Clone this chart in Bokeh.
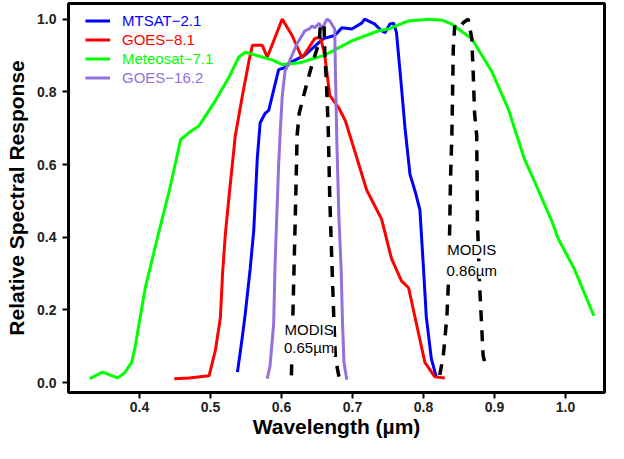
from bokeh.plotting import figure
from bokeh.models import Legend, LegendItem, Label, FixedTicker, Range1d
from bokeh.embed import file_html
from bokeh.resources import INLINE

# ---------------- data ----------------
mtsat_x = [0.538, 0.545, 0.549, 0.556, 0.561, 0.566, 0.570, 0.577, 0.582, 0.591, 0.596, 0.605,
           0.615, 0.633, 0.653, 0.660, 0.675, 0.685, 0.699, 0.713, 0.717, 0.731, 0.741, 0.746,
           0.753, 0.758, 0.762, 0.769, 0.774, 0.781, 0.788, 0.795, 0.800, 0.804, 0.811, 0.818]
mtsat_y = [0.029, 0.128, 0.190, 0.315, 0.420, 0.620, 0.715, 0.741, 0.749, 0.821, 0.861, 0.867,
           0.883, 0.901, 0.936, 0.947, 0.955, 0.976, 0.973, 0.989, 1.000, 0.987, 0.968, 0.963,
           0.987, 0.989, 0.963, 0.813, 0.700, 0.573, 0.528, 0.475, 0.315, 0.181, 0.067, 0.016]

goes8_x = [0.449, 0.470, 0.498, 0.507, 0.514, 0.517, 0.521, 0.526, 0.535, 0.545, 0.554, 0.559,
           0.573, 0.580, 0.601, 0.615, 0.629, 0.647, 0.655, 0.661, 0.668, 0.681, 0.690, 0.709,
           0.720, 0.741, 0.755, 0.769, 0.779, 0.793, 0.802, 0.816, 0.830]
goes8_y = [0.011, 0.013, 0.019, 0.090, 0.180, 0.300, 0.410, 0.510, 0.680, 0.790, 0.883, 0.928,
           0.928, 0.895, 1.000, 0.955, 0.893, 0.947, 0.950, 0.900, 0.790, 0.755, 0.720, 0.600,
           0.530, 0.450, 0.341, 0.280, 0.261, 0.136, 0.056, 0.016, 0.013]

meteo_x = [0.330, 0.348, 0.369, 0.379, 0.389, 0.394, 0.401, 0.408, 0.418, 0.428, 0.442, 0.458,
           0.470, 0.484, 0.507, 0.526, 0.540, 0.549, 0.565, 0.587, 0.601, 0.626, 0.661, 0.699,
           0.737, 0.751, 0.779, 0.807, 0.826, 0.840, 0.868, 0.896, 0.920, 0.942, 0.956, 0.980,
           0.990, 1.012, 1.040]
meteo_y = [0.011, 0.029, 0.013, 0.027, 0.056, 0.100, 0.180, 0.260, 0.340, 0.420, 0.528, 0.669,
           0.688, 0.707, 0.776, 0.840, 0.896, 0.909, 0.900, 0.888, 0.875, 0.880, 0.901, 0.940,
           0.968, 0.973, 0.995, 1.000, 0.997, 0.986, 0.946, 0.857, 0.750, 0.616, 0.555, 0.448,
           0.395, 0.315, 0.184]

goes16_x = [0.580, 0.584, 0.589, 0.591, 0.596, 0.598, 0.601, 0.605, 0.615, 0.622, 0.629, 0.633,
            0.639, 0.643, 0.647, 0.653, 0.657, 0.664, 0.668, 0.675, 0.676, 0.678, 0.681, 0.684,
            0.686, 0.688, 0.692]
goes16_y = [0.011, 0.048, 0.163, 0.330, 0.600, 0.680, 0.787, 0.856, 0.901, 0.933, 0.955, 0.968,
            0.973, 0.981, 0.976, 0.989, 0.973, 1.000, 0.995, 0.973, 0.856, 0.661, 0.450, 0.315,
            0.163, 0.056, 0.008]

modis065_x = [0.614, 0.616, 0.618, 0.620, 0.622, 0.625, 0.633, 0.643, 0.653, 0.655, 0.660, 0.661,
              0.664, 0.666, 0.668, 0.671, 0.674, 0.676, 0.681]
modis065_y = [0.020, 0.180, 0.340, 0.500, 0.680, 0.741, 0.803, 0.875, 0.936, 0.989, 0.981, 0.909,
              0.795, 0.688, 0.510, 0.330, 0.163, 0.067, 0.016]

modis086_x = [0.823, 0.828, 0.833, 0.835, 0.837, 0.838, 0.840, 0.841, 0.842, 0.844, 0.849, 0.856,
              0.863, 0.868, 0.870, 0.872, 0.875, 0.876, 0.879, 0.882, 0.884, 0.889]
modis086_y = [0.021, 0.075, 0.181, 0.270, 0.430, 0.555, 0.680, 0.795, 0.920, 0.981, 0.973, 0.990,
              1.000, 0.947, 0.856, 0.741, 0.680, 0.448, 0.270, 0.155, 0.075, 0.035]

series_names = ["MTSAT\u22122.1", "GOES\u22128.1", "Meteosat\u22127.1", "GOES\u221216.2"]
x_ticks = [0.4, 0.5, 0.6, 0.7, 0.8, 0.9, 1.0]
x_tick_labels = ["0.4", "0.5", "0.6", "0.7", "0.8", "0.9", "1.0"]
y_ticks = [0.0, 0.2, 0.4, 0.6, 0.8, 1.0]
y_tick_labels = ["0.0", "0.2", "0.4", "0.6", "0.8", "1.0"]

# ---------------- figure ----------------
FONT = "Liberation Sans"
W, H = 608, 443
TOP, BOTTOM = 3, 51
p = figure(width=W, height=H, output_backend="svg", toolbar_location=None,
           x_range=Range1d(0.30, 1.055), y_range=Range1d(-0.027, 1.043),
           min_border_left=68, min_border_right=4, min_border_top=TOP, min_border_bottom=BOTTOM)
p.grid.visible = False
p.outline_line_color = "black"
p.outline_line_width = 3
p.outline_line_alpha = 1.0
p.background_fill_color = "white"
p.border_fill_color = "white"

for ax, ticks, labels in [(p.xaxis[0], x_ticks, x_tick_labels), (p.yaxis[0], y_ticks, y_tick_labels)]:
    ax.ticker = FixedTicker(ticks=ticks)
    ax.major_label_overrides = {t: l for t, l in zip(ticks, labels)}
    ax.minor_tick_line_color = None
    ax.major_tick_in = 0
    ax.major_tick_out = 6
    ax.major_tick_line_width = 2
    ax.major_tick_line_color = "black"
    ax.axis_line_color = None
    ax.major_label_text_font = FONT
    ax.major_label_text_font_style = "bold"
    ax.major_label_text_font_size = "14px"
    ax.major_label_text_color = "#222222"
    ax.axis_label_text_font = FONT
    ax.axis_label_text_font_style = "bold"
    ax.axis_label_text_font_size = "21px"
    ax.axis_label_text_color = "black"

p.xaxis.axis_label = "Wavelength (\u00b5m)"
p.yaxis.axis_label = "Relative Spectral Response"
p.xaxis.major_label_standoff = 3
p.xaxis.axis_label_standoff = 0
p.yaxis.major_label_standoff = 6
p.yaxis.axis_label_standoff = 6

colors = ["#0000FF", "#FF0000", "#00FF00", "#9370DB"]
xs = [mtsat_x, goes8_x, meteo_x, goes16_x]
ys = [mtsat_y, goes8_y, meteo_y, goes16_y]
renderers = []
for x, y, c in zip(xs, ys, colors):
    renderers.append(p.line(x, y, line_color=c, line_width=3))

for x, y in [(modis065_x, modis065_y), (modis086_x, modis086_y)]:
    p.line(x, y, line_color="black", line_width=3.5, line_dash="11 9")

# MODIS labels with white background
for (lx, ly1, ly2, txt2) in [(0.639, 0.147, 0.096, "0.65\u00b5m"), (0.868, 0.365, 0.309, "0.86\u00b5m")]:
    for ly, t in [(ly1, "MODIS"), (ly2, txt2)]:
        p.add_layout(Label(x=lx, y=ly, text=t, text_align="center", text_baseline="middle",
                           text_font=FONT, text_font_size="15px", text_color="black",
                           background_fill_color="white", background_fill_alpha=1.0))

# legends: one per series so that each label can carry its own colour
frame_h = H - TOP - BOTTOM
for i, (r, name, c) in enumerate(zip(renderers, series_names, colors)):
    leg = Legend(items=[LegendItem(label=name, renderers=[r])],
                 location=(17, frame_h - 27 - 19 * i),
                 label_text_color=c, label_text_font=FONT, label_text_font_size="15px",
                 label_text_baseline="middle",
                 border_line_color=None, background_fill_alpha=0.0,
                 padding=0, margin=0, spacing=0,
                 glyph_width=25, glyph_height=19, label_height=19, label_standoff=12)
    p.add_layout(leg, "center")

open("out.html", "w").write(file_html(p, INLINE))
